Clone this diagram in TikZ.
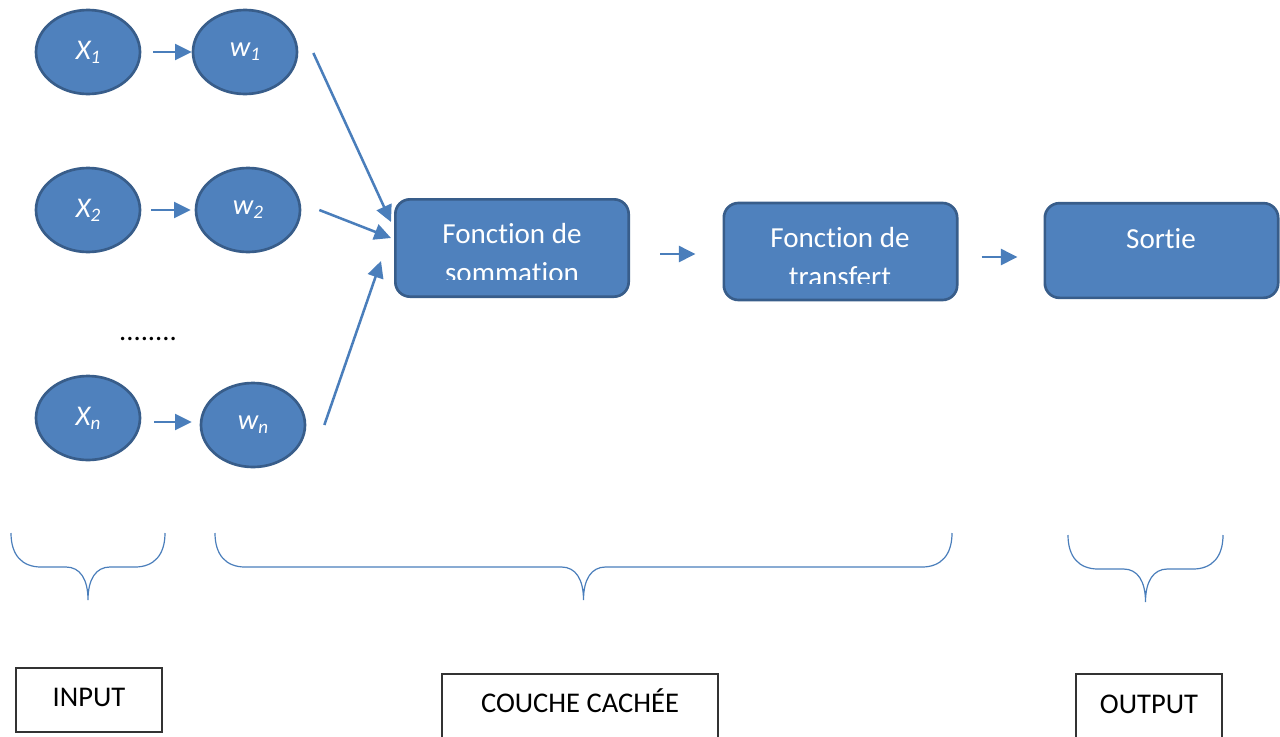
\documentclass[tikz,border=0pt]{standalone}
\usepackage{fontspec}
\setmainfont{Carlito}[Ligatures=NoCommon]
\usetikzlibrary{shapes.geometric,arrows.meta,calc}
\definecolor{nodefill}{HTML}{4F81BD}
\definecolor{nodeedge}{HTML}{385D8A}
\definecolor{linkblue}{HTML}{4A7EBB}

% lowered index for the neuron labels
\newcommand{\lowidx}[1]{\raisebox{-3pt}{\fontsize{14.3}{14}\selectfont #1}}
% curly brace opening upwards: left x, right x, top y
\newcommand{\curlybrace}[3]{%
  \pgfmathsetmacro\brmid{(#1+#2)/2}%
  \pgfmathsetmacro\brbar{#3+34}%
  \pgfmathsetmacro\brtip{#3+67}%
  \draw[brace] (#1,#3) .. controls (#1,#3+22) and (#1+11,\brbar) .. (#1+30,\brbar)
    -- (\brmid-22,\brbar) .. controls (\brmid-8,\brbar) and (\brmid,\brbar+12) .. (\brmid,\brtip)
    .. controls (\brmid,\brbar+12) and (\brmid+8,\brbar) .. (\brmid+22,\brbar)
    -- (#2-30,\brbar) .. controls (#2-11,\brbar) and (#2,#3+22) .. (#2,#3);
}

\begin{document}
\begin{tikzpicture}[x=0.75pt,y=-0.75pt,
  neuron/.style={ellipse, fill=nodefill, draw=nodeedge, line width=2pt,
    minimum width=78pt, minimum height=63pt, inner sep=0pt, text=white,
    font=\fontsize{21.4}{26}\selectfont\itshape},
  stage/.style={rectangle, rounded corners=11pt, fill=nodefill, draw=nodeedge,
    line width=2pt, minimum width=175pt, minimum height=73pt, inner sep=0pt},
  stagetext/.style={text=white, font=\fontsize{21.8}{26}\selectfont, anchor=base, inner sep=0pt},
  arr/.style={draw=linkblue, line width=1.9pt, -{Triangle[length=12.5pt,width=12pt]}},
  brace/.style={draw=linkblue, line width=0.9pt},
  tag/.style={rectangle, draw=black!80, line width=1pt, inner sep=0pt},
  tagtext/.style={font=\fontsize{21.4}{26}\selectfont, text=black, anchor=base, inner sep=0pt}
]
\useasboundingbox (0,0) rectangle (1280,736);

% inputs and weights
\node[neuron] (x1) at (88,52) {X\lowidx{1}};
\node[neuron] (w1) at (245,52) {w\lowidx{1}};
\node[neuron] (x2) at (88,210) {X\lowidx{2}};
\node[neuron] (w2) at (248,210) {w\lowidx{2}};
\node[neuron] (xn) at (88,418) {X\lowidx{n}};
\node[neuron] (wn) at (253,425) {w\lowidx{n}};
\node[font=\fontsize{21.4}{26}\selectfont, text=black, anchor=base, inner sep=0pt] (dots) at (148,340) {........};

% processing stages
\node[stage] (sum) at (512,248) {};
\node[stage, minimum height=72.75pt] (transfer) at (840.5,251.5) {};
\node[stage, minimum height=71pt] (sortie) at (1161.5,250.5) {};

% stage captions, the second line cut off by the text area
\begin{scope}
  \clip (395,199) rectangle (629,279);
  \node[stagetext] (sumA) at (512,243) {Fonction de};
  \node[stagetext] (sumB) at (512,282) {sommation};
\end{scope}
\begin{scope}
  \clip (724,203) rectangle (957,283);
  \node[stagetext] (trA) at (840,247) {Fonction de};
  \node[stagetext] (trB) at (840,286) {transfert};
\end{scope}
\node[stagetext] (sortieA) at (1161,248) {Sortie};

% connectors
\draw[arr, shorten <=9pt] (x1) -- (w1);
\draw[arr, shorten <=7.5pt, shorten >=3pt] (x2) -- (w2);
\draw[arr] ($(xn.east)+(13,4)$) -- ($(wn.west)+(-8,-3)$);

\draw[arr] ($(w1.east)+(15,1)$) -- ($(sum.west)+(-3,-26)$);
\draw[arr] ($(w2.east)+(18,0)$) -- ($(sum.west)+(-3,-10)$);
\draw[arr] ($(wn.east)+(18,0)$) -- ($(sum.west)+(-13,13)$);

\draw[arr] ($(sum.east)+(30,6)$) -- ($(transfer.west)+(-27,2.5)$);
\draw[arr] ($(transfer.east)+(23,5.5)$) -- ($(sortie.west)+(-26,6.5)$);

% layer braces
\curlybrace{11}{165}{533}
\curlybrace{215}{952}{533}
\curlybrace{1068}{1223}{535}

% layer tags
\node[tag, minimum width=109.5pt, minimum height=48pt] (inbox) at (89,700) {};
\node[tagtext] (intxt) at (89,706) {INPUT};
\node[tag, minimum width=207pt, minimum height=64.5pt] (hidbox) at (580,717) {};
\node[tagtext] (hidtxt) at (580,712) {COUCHE CACHÉE};
\node[tag, minimum width=109.5pt, minimum height=64.5pt] (outbox) at (1149,717) {};
\node[tagtext] (outtxt) at (1149,713) {OUTPUT};
\end{tikzpicture}
\end{document}
